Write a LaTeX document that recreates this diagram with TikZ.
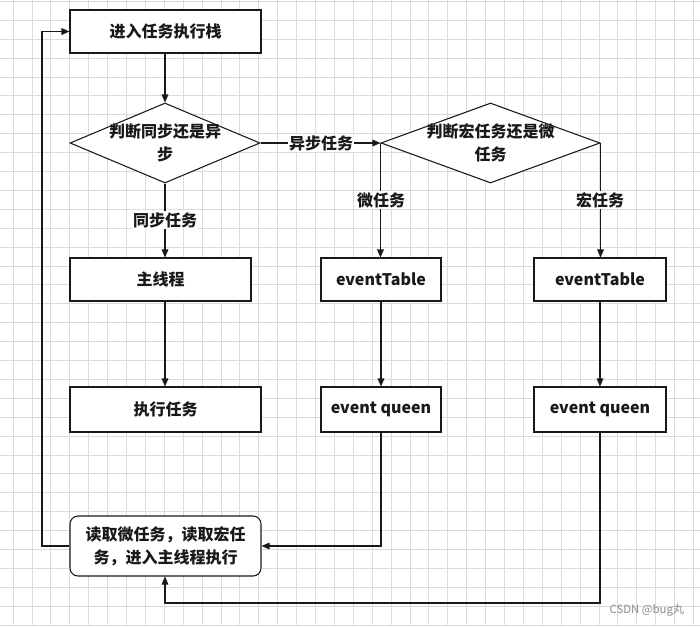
\documentclass[tikz,border=0pt]{standalone}
\usepackage{fontspec}
\setmainfont{Noto Sans CJK SC}
\usetikzlibrary{shapes.geometric,arrows.meta}
\begin{document}
\begin{tikzpicture}[x=0.75pt,y=-0.75pt,
  every node/.style={font=\bfseries\fontsize{12pt}{17pt}\selectfont, text=black!90},
  box/.style={draw=black!90, line width=0.8pt, fill=white, inner sep=0pt, minimum height=32.25pt},
  dia/.style={draw=black!90, line width=0.8pt, fill=white, shape=diamond, inner sep=0pt},
  conn/.style={draw=black!90, line width=0.8pt, -{Triangle[length=6pt,width=5pt]}},
  plain/.style={draw=black!90, line width=0.8pt},
  lbl/.style={fill=white, inner sep=1pt}
]
\useasboundingbox (0,0) rectangle (700,626);
\fill[white] (0,0) rectangle (700,626);
\foreach \k in {0,...,36} \draw[black!14, line width=0.6pt] ({13+18.9*\k},0) -- ({13+18.9*\k},626);
\foreach \k in {0,...,33} \draw[black!14, line width=0.6pt] (0,{1.3+18.9*\k}) -- (700,{1.3+18.9*\k});

\node[box, minimum width=143.25pt] (start) at (165.5,31.5) {进入任务执行栈};
\node[dia, minimum width=142.5pt, minimum height=60pt] (d1) at (165,143) {};
\node[align=center] (d1t) at (165,143) {判断同步还是异\\步};
\node[dia, minimum width=164.25pt, minimum height=60pt] (d2) at (490.5,143) {};
\node[align=center] (d2t) at (490.5,143) {判断宏任务还是微\\任务};
\node[box, minimum width=135.75pt] (main) at (160.5,279.5) {主线程};
\node[box, minimum width=143.25pt, minimum height=33.75pt] (exec) at (165.5,409.5) {执行任务};
\node[box, minimum width=90pt] (et1) at (381,279.5) {eventTable};
\node[box, minimum width=90pt, minimum height=33.75pt] (eq1) at (381,409.5) {event queen};
\node[box, minimum width=99pt] (et2) at (600,279.5) {eventTable};
\node[box, minimum width=99pt, minimum height=33.75pt] (eq2) at (600,409.5) {event queen};
\node[box, minimum width=143.25pt, minimum height=45pt, rounded corners=6pt, align=center] (read) at (165.5,546) {读取微任务，读取宏任\\务，进入主线程执行};

\coordinate (c1) at (42,546);
\coordinate (c2) at (42,31.5);
\coordinate (c3) at (600,603);
\coordinate (c4) at (165,603);

\draw[conn] (start.south -| d1.north) -- (d1.north);
\draw[conn] (d1.east) -- (d2.west);
\draw[conn] (d1.south) -- (d1.south |- main.north);
\draw[conn] (d1.south |- main.south) -- (d1.south |- exec.north);
\draw[conn] (d2.west) -- (d2.west |- et1.north);
\draw[conn] (d2.east) -- (d2.east |- et2.north);
\draw[conn] (et1.south) -- (eq1.north);
\draw[conn] (et2.south) -- (eq2.north);
\draw[conn] (eq1.south) |- (read.east);
\draw[conn] (eq2.south) -- (c3) -- (c4) -- (c4 |- read.south);
\draw[conn] (read.west) -- (c1) -- (c2) -- (start.west);

\node[lbl] (l1) at (321,143) {异步任务};
\node[lbl] (l2) at (165,220) {同步任务};
\node[lbl] (l3) at (381,200) {微任务};
\node[lbl] (l4) at (600,200) {宏任务};
\node[font=\fontsize{8.5pt}{10pt}\selectfont, text=black!45] (wm) at (647,610) {CSDN @bug丸};
\end{tikzpicture}
\end{document}
